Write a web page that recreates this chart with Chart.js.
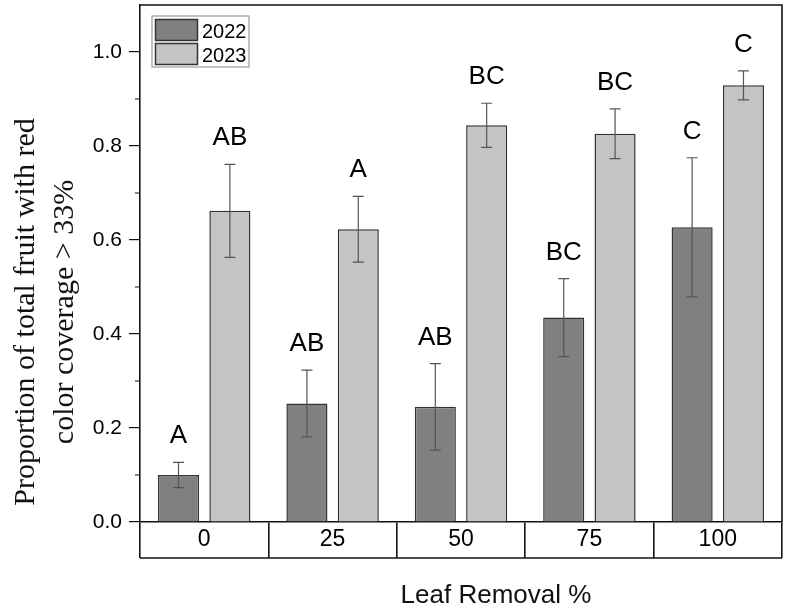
<!DOCTYPE html>
<html>
<head>
<meta charset="utf-8">
<script src="https://cdn.jsdelivr.net/npm/chart.js@4.4.1/dist/chart.umd.min.js"></script>
<style>
html,body{margin:0;padding:0;background:#fff;}
#wrap{width:785px;height:608px;position:relative;}
</style>
</head>
<body>
<div id="wrap"><canvas id="c" width="785" height="608"></canvas></div>
<script>
const categories = ['0', '25', '50', '75', '100'];
const seriesNames = ['2022', '2023'];
const values2022 = [0.100, 0.252, 0.245, 0.435, 0.627];
const errors2022 = [0.027, 0.071, 0.092, 0.083, 0.148];
const values2023 = [0.662, 0.623, 0.844, 0.826, 0.929];
const errors2023 = [0.099, 0.070, 0.047, 0.053, 0.031];
const letters2022 = ['A', 'AB', 'AB', 'BC', 'C'];
const letters2023 = ['AB', 'A', 'BC', 'BC', 'C'];
const yMajorTicks = [0, 0.2, 0.4, 0.6, 0.8, 1.0];
const yMinorTicks = [0.1, 0.3, 0.5, 0.7, 0.9];
const yTitleLines = ['Proportion of total fruit with red', 'color coverage > 33%'];
const xTitle = 'Leaf Removal %';

const errorSets = [errors2022, errors2023];
const letterSets = [letters2022, letters2023];

const extras = {
  id: 'extras',
  afterDatasetsDraw(chart) {
    const ctx = chart.ctx;
    const ys = chart.scales.y;
    chart.data.datasets.forEach((ds, di) => {
      const meta = chart.getDatasetMeta(di);
      meta.data.forEach((bar, i) => {
        const v = ds.data[i], e = errorSets[di][i];
        const yt = ys.getPixelForValue(v + e);
        const yb = ys.getPixelForValue(v - e);
        const x = bar.x;
        ctx.save();
        ctx.strokeStyle = '#555';
        ctx.lineWidth = 1.2;
        ctx.beginPath();
        ctx.moveTo(x, yt); ctx.lineTo(x, yb);
        ctx.moveTo(x - 5.5, yt); ctx.lineTo(x + 5.5, yt);
        ctx.moveTo(x - 5.5, yb); ctx.lineTo(x + 5.5, yb);
        ctx.stroke();
        ctx.fillStyle = '#000';
        ctx.font = '26px "Liberation Sans", Arial, sans-serif';
        ctx.textAlign = 'center';
        ctx.textBaseline = 'alphabetic';
        ctx.fillText(letterSets[di][i], x, yt - 19);
        ctx.restore();
      });
    });
  },
  afterDraw(chart) {
    const ctx = chart.ctx;
    const a = chart.chartArea;
    const ys = chart.scales.y;
    const xs = chart.scales.x;
    ctx.save();
    ctx.strokeStyle = '#111';
    ctx.lineWidth = 1.6;
    ctx.beginPath();
    ctx.moveTo(a.left, a.top); ctx.lineTo(a.right, a.top); ctx.lineTo(a.right, a.bottom);
    ctx.stroke();
    ctx.beginPath();
    ctx.moveTo(xs.left, xs.top + 36); ctx.lineTo(xs.right, xs.top + 36);
    ctx.stroke();
    ctx.lineWidth = 1.2;
    ctx.beginPath();
    yMinorTicks.forEach(v => {
      const y = ys.getPixelForValue(v);
      ctx.moveTo(a.left - 5, y); ctx.lineTo(a.left, y);
    });
    ctx.stroke();
    // legend inside plot
    const lx = 152, ly = 16;
    ctx.strokeStyle = '#888';
    ctx.lineWidth = 1;
    ctx.strokeRect(lx, ly, 97, 51);
    chart.data.datasets.forEach((ds, di) => {
      const sy = ly + 3.5 + di * 24;
      ctx.fillStyle = ds.backgroundColor;
      ctx.fillRect(lx + 3.5, sy, 42, 21);
      ctx.strokeStyle = '#333';
      ctx.lineWidth = 1.5;
      ctx.strokeRect(lx + 3.5, sy, 42, 21);
      ctx.fillStyle = '#000';
      ctx.font = '20px "Liberation Sans", Arial, sans-serif';
      ctx.textAlign = 'left';
      ctx.textBaseline = 'alphabetic';
      ctx.fillText(ds.label, lx + 50, sy + 18);
    });
    // axis titles
    ctx.fillStyle = '#111';
    ctx.font = '30px "Liberation Serif", "Times New Roman", serif';
    ctx.textAlign = 'center';
    ctx.textBaseline = 'alphabetic';
    ctx.translate(34, 312);
    ctx.rotate(-Math.PI / 2);
    yTitleLines.forEach((t, i) => ctx.fillText(t, 0, i * 39));
    ctx.setTransform(1, 0, 0, 1, 0, 0);
    ctx.fillStyle = '#111';
    ctx.font = '26px "Liberation Sans", Arial, sans-serif';
    ctx.textAlign = 'center';
    ctx.fillText(xTitle, 496, 603);
    ctx.restore();
  }
};

new Chart(document.getElementById('c'), {
  type: 'bar',
  data: {
    labels: categories,
    datasets: [
      { label: seriesNames[0], data: values2022, backgroundColor: '#808080', borderColor: '#333', borderWidth: 1.5,
        categoryPercentage: 0.8, barPercentage: 0.8 },
      { label: seriesNames[1], data: values2023, backgroundColor: '#c4c4c4', borderColor: '#333', borderWidth: 1.5,
        categoryPercentage: 0.8, barPercentage: 0.8 }
    ]
  },
  options: {
    responsive: false,
    animation: false,
    devicePixelRatio: 1,
    layout: { padding: { top: 5, right: 3, left: 0, bottom: 0 } },
    plugins: { legend: { display: false }, tooltip: { enabled: false } },
    scales: {
      x: {
        offset: true,
        grid: { display: true, drawOnChartArea: false, drawTicks: true, offset: true, tickLength: 36, color: '#111', lineWidth: 1.6 },
        border: { display: true, color: '#111', width: 1.6 },
        ticks: { color: '#000', font: { size: 23, family: '"Liberation Sans", Arial, sans-serif' }, padding: -32, maxRotation: 0 },
        afterFit: s => { s.height = 86; s.paddingLeft = 0; s.paddingRight = 0; }
      },
      y: {
        min: 0, max: 1.1,
        afterBuildTicks: s => { s.ticks = yMajorTicks.map(v => ({ value: v })); },
        grid: { display: true, drawOnChartArea: false, drawTicks: true, tickLength: 11, color: '#111', lineWidth: 1.2 },
        border: { display: true, color: '#111', width: 1.6 },
        ticks: { color: '#000', font: { size: 21, family: '"Liberation Sans", Arial, sans-serif' }, padding: 7,
          callback: v => Number(v).toFixed(1) },
        afterFit: s => { s.width = 140; s.paddingTop = 0; s.paddingBottom = 0; }
      }
    }
  },
  plugins: [extras]
});
</script>
</body>
</html>
